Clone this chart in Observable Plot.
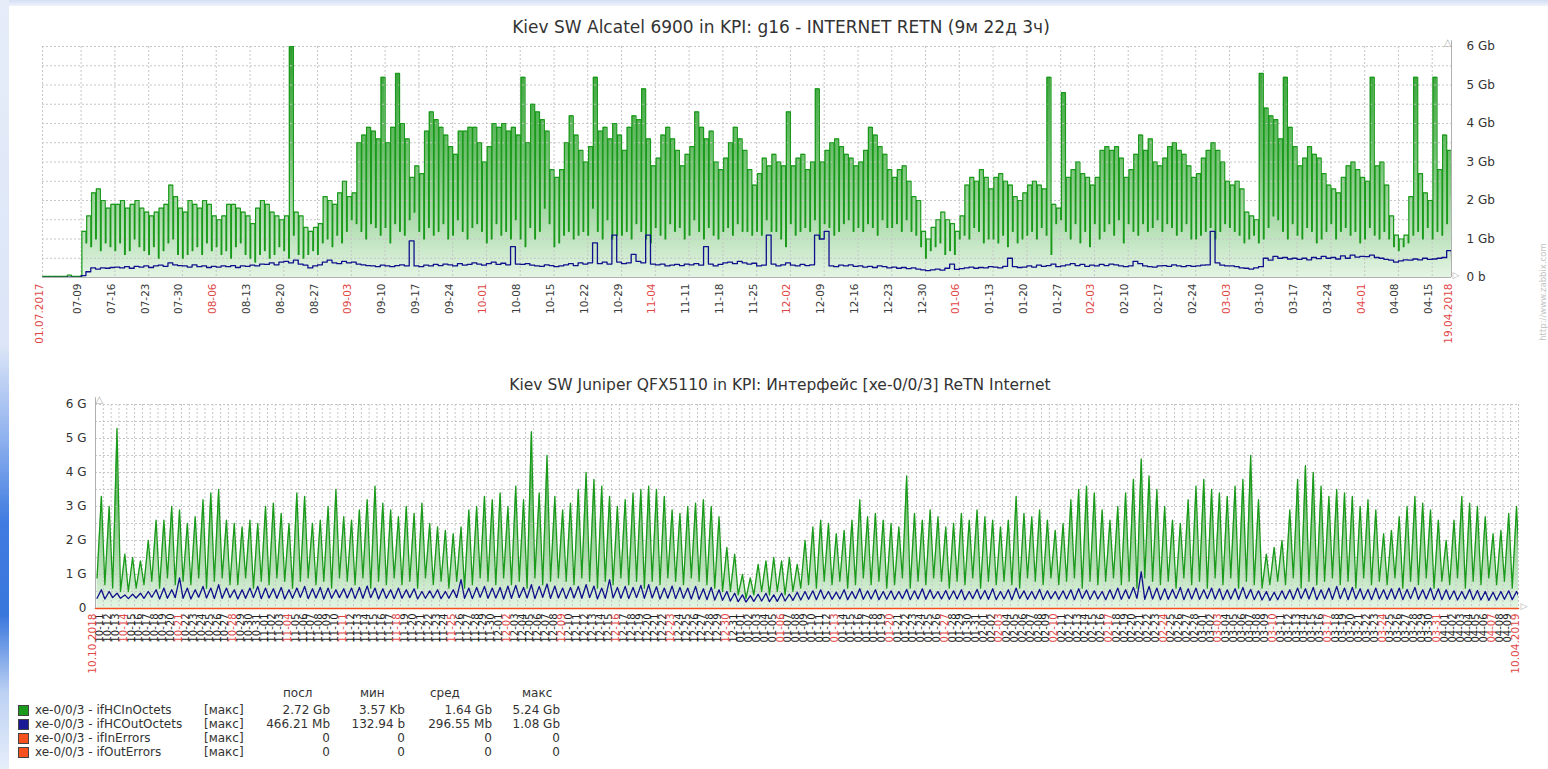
<!DOCTYPE html>
<html><head><meta charset="utf-8">
<script src="https://cdn.jsdelivr.net/npm/d3@7"></script>
<script src="https://cdn.jsdelivr.net/npm/@observablehq/plot@0.6"></script>
<style>
html,body{margin:0;padding:0;background:#fff;}
body{width:1548px;height:769px;position:relative;overflow:hidden;font-family:"DejaVu Sans",sans-serif;color:#333;}
.abs{position:absolute;white-space:nowrap;}
.title{color:#333;transform:translateX(-50%);}
#legend div{position:absolute;font-size:12px;line-height:14px;color:#333;white-space:nowrap;}
</style></head><body>
<div class="abs" style="left:0;top:0;width:1548px;height:6px;background:linear-gradient(#d3dff4,#eef3fb)"></div>
<div class="abs" style="left:0;top:0;width:9px;height:769px;background:linear-gradient(to bottom,#e6edf9 0%,#dbe5f7 45%,#8fb1ee 57%,#3f7be0 68%,#3a77dd 80%,#bcd1f3 90%,#e6eefa 100%)"></div>
<div class="abs title" style="left:781px;top:17px;font-size:17px;">Kiev SW Alcatel 6900 in KPI: g16 - INTERNET RETN (9м 22д 3ч)</div>
<div class="abs title" style="left:780px;top:376px;font-size:15.5px;">Kiev SW Juniper QFX5110 in KPI: Интерфейс [xe-0/0/3] ReTN Internet</div>
<div class="abs" style="left:1543px;top:292px;font-size:8.5px;color:#c4c4c4;transform:translate(-50%,-50%) rotate(-90deg);">http://www.zabbix.com</div>
<div id="top" class="abs" style="left:0;top:0;"></div>
<div id="bottom" class="abs" style="left:0;top:360px;"></div>
<div id="legend" class="abs" style="left:0;top:0;width:1548px;height:769px;"></div>
<script>
// ================= DATA =================
// Top chart: Alcatel 6900, daily values (Gb), 2017-07-01 .. 2018-04-19
const topStartDate = "2017-07-01";
const topEndDate = "2018-04-19";
const topInPeak = [
  0.03,0.03,0.03,0.03,0.03,0.06,0.03,0.03,
  1.2,1.6,2.2,2.3,2.0,1.8,1.9,
  1.9,2.0,1.8,1.9,2.0,1.8,1.7,
  1.6,1.7,1.8,1.9,2.4,2.1,1.8,
  1.7,2.0,1.9,1.8,2.0,1.9,1.6,
  1.5,1.6,1.9,1.9,1.8,1.7,1.6,
  1.4,1.8,2.0,1.9,1.7,1.6,1.5,
  1.6,6.0,1.7,1.6,1.3,1.2,1.3,
  1.4,2.1,2.0,1.9,2.2,2.5,2.1,
  2.2,3.5,3.7,3.9,3.8,3.6,5.2,
  3.5,3.9,5.3,4.0,3.6,2.6,2.9,
  2.7,3.8,4.3,4.1,3.9,3.7,3.4,
  3.2,3.8,3.8,3.9,3.9,3.5,3.0,
  3.4,4.0,3.9,4.0,3.8,3.9,3.7,
  5.2,3.5,4.5,4.3,4.1,3.8,2.8,
  2.6,2.8,3.5,4.2,3.7,3.3,3.0,
  3.4,5.2,3.8,3.9,3.6,4.0,3.7,
  3.3,3.9,4.2,4.1,4.9,3.6,2.9,
  3.1,3.7,3.9,3.6,3.3,2.9,3.2,
  3.4,4.3,3.9,3.6,3.8,3.0,2.8,
  3.1,3.5,3.9,3.6,3.3,2.8,2.4,
  2.7,3.1,2.9,3.2,3.0,2.9,4.3,
  2.9,3.1,3.2,2.8,3.0,4.9,3.0,
  3.3,3.5,3.6,3.4,3.2,3.1,2.9,
  3.0,3.3,3.9,3.7,3.4,3.2,2.8,
  2.6,2.8,2.9,2.5,2.1,2.0,1.2,
  1.0,1.3,1.5,1.7,1.5,1.4,1.2,
  1.6,2.4,2.6,2.5,2.8,2.6,2.3,
  2.6,2.7,2.5,2.4,2.1,2.0,2.2,
  2.4,2.5,2.4,2.3,5.2,1.9,1.8,
  4.8,2.6,2.8,3.0,2.7,2.6,2.4,
  2.6,3.3,3.4,3.3,3.4,3.1,2.6,
  2.8,3.2,3.7,3.3,3.6,3.0,2.9,
  3.1,3.4,3.5,3.3,3.2,2.9,2.6,
  2.7,3.1,3.3,3.5,3.3,3.0,2.5,
  2.4,2.5,2.3,1.7,1.6,1.5,5.3,
  4.4,4.2,4.1,3.6,5.2,3.9,3.4,
  2.9,3.1,3.4,3.2,3.1,2.7,2.4,
  2.3,2.2,2.6,2.9,3.0,2.8,2.6,
  2.5,5.2,2.9,3.0,2.4,1.6,1.1,
  1.0,1.1,2.1,5.2,2.7,2.2,2.0,
  5.2,2.8,3.7,3.3,2.5
];
const topInLow = [
  0.02,0.02,0.02,0.02,0.02,0.02,0.02,0.02,
  0.02,0.9,0.8,1.0,0.7,0.9,0.8,
  0.7,0.9,0.6,0.7,1.0,0.8,0.7,
  0.6,0.8,0.5,0.7,0.9,1.0,0.6,
  0.5,0.6,0.7,0.8,0.6,0.9,0.7,
  0.8,0.6,0.7,0.5,0.8,0.9,0.6,
  0.5,0.4,0.6,0.7,0.5,0.6,0.8,
  0.7,0.5,1.1,0.6,0.5,0.6,0.7,
  0.6,0.9,1.0,0.8,1.1,0.9,1.2,
  1.5,1.4,1.2,1.0,1.4,1.3,1.1,
  1.3,0.9,1.4,1.2,1.1,1.5,1.7,
  1.2,1.0,1.3,1.1,1.2,1.4,1.0,
  1.1,1.5,1.2,1.0,1.3,1.4,1.2,
  0.9,1.0,1.4,1.1,1.2,1.0,1.5,
  1.0,0.8,1.3,1.0,1.2,1.8,1.4,
  0.8,0.9,1.1,1.2,1.0,1.1,1.2,
  1.1,1.8,1.2,1.0,1.5,1.0,1.1,
  1.1,1.2,1.0,1.4,1.2,1.0,0.9,
  1.3,1.1,1.0,1.4,1.2,1.3,1.0,
  1.1,1.5,1.2,1.0,1.3,1.1,1.0,
  1.2,1.3,1.1,1.4,1.2,1.2,1.1,
  1.2,1.1,1.5,1.2,1.2,1.0,0.8,
  1.4,1.1,1.2,1.3,1.2,1.5,1.0,
  1.4,1.3,1.1,1.2,1.4,1.5,1.2,
  1.3,1.2,1.4,1.3,1.1,1.5,1.3,
  1.3,1.4,1.2,1.5,1.2,1.1,0.8,
  0.5,0.7,0.8,0.9,0.6,0.7,0.6,
  1.0,1.1,1.0,1.3,1.2,0.9,1.0,
  1.0,0.9,1.1,0.8,1.2,0.9,1.0,
  1.1,1.2,1.0,1.3,1.1,0.6,1.4,
  1.5,1.2,1.0,1.4,0.9,1.2,0.8,
  1.4,1.0,1.2,1.4,1.1,1.5,0.9,
  1.4,1.2,1.1,1.4,1.2,1.3,1.5,
  1.2,1.4,1.3,1.1,1.2,1.4,1.0,
  1.0,1.1,1.2,1.3,1.0,1.2,1.4,
  1.3,1.2,1.1,0.9,1.0,1.1,0.9,
  1.0,1.3,1.6,1.5,1.2,1.0,1.4,
  1.1,1.0,1.3,1.2,0.9,1.0,1.2,
  1.4,1.0,1.2,1.3,1.1,1.2,0.9,
  1.0,1.3,1.1,1.0,1.2,1.0,0.8,
  0.7,0.8,0.9,1.1,1.2,1.0,1.3,
  1.0,1.2,1.1,1.4,2.1
];
const topOut = [
  0,0,0,0,0,0.01,0,0,
  0.05,0.15,0.25,0.22,0.25,0.24,0.26,
  0.27,0.25,0.28,0.24,0.29,0.27,0.30,
  0.26,0.30,0.32,0.29,0.38,0.33,0.31,
  0.30,0.27,0.33,0.28,0.30,0.26,0.29,
  0.27,0.30,0.28,0.31,0.26,0.30,0.29,
  0.32,0.30,0.35,0.34,0.38,0.33,0.40,
  0.42,0.38,0.45,0.35,0.32,0.25,0.30,
  0.33,0.40,0.45,0.38,0.36,0.42,0.38,
  0.40,0.35,0.33,0.31,0.30,0.28,0.32,
  0.30,0.28,0.31,0.33,0.30,0.95,0.30,
  0.28,0.32,0.30,0.34,0.31,0.35,0.33,
  0.30,0.36,0.32,0.34,0.38,0.35,0.32,
  0.36,0.40,0.34,0.37,0.33,0.80,0.35,
  0.34,0.36,0.32,0.30,0.29,0.33,0.31,
  0.28,0.30,0.33,0.36,0.31,0.38,0.35,
  0.38,0.90,0.36,0.40,0.35,1.10,0.40,
  0.36,0.38,0.60,0.42,0.38,1.10,0.35,
  0.33,0.35,0.30,0.32,0.34,0.31,0.35,
  0.33,0.36,0.32,0.80,0.35,0.30,0.34,
  0.38,0.40,0.36,0.42,0.38,0.35,0.37,
  0.30,0.32,1.10,0.35,0.30,0.33,0.38,
  0.32,0.30,0.34,0.31,0.33,1.10,1.00,
  1.20,0.30,0.28,0.32,0.30,0.33,0.29,
  0.30,0.27,0.29,0.26,0.30,0.28,0.25,
  0.27,0.24,0.26,0.23,0.25,0.22,0.20,
  0.18,0.20,0.22,0.19,0.24,0.35,0.21,
  0.23,0.25,0.27,0.24,0.26,0.25,0.28,
  0.27,0.25,0.29,0.50,0.28,0.26,0.27,
  0.30,0.27,0.32,0.29,0.31,0.35,0.28,
  0.30,0.33,0.36,0.31,0.34,0.29,0.32,
  0.30,0.34,0.31,0.35,0.33,0.30,0.28,
  0.30,0.42,0.36,0.30,0.28,0.27,0.30,
  0.31,0.29,0.33,0.30,0.28,0.31,0.29,
  0.30,0.32,0.33,1.20,0.38,0.32,0.30,
  0.30,0.28,0.25,0.24,0.22,0.25,0.28,
  0.50,0.45,0.55,0.50,0.52,0.48,0.50,
  0.47,0.50,0.46,0.52,0.49,0.55,0.50,
  0.52,0.48,0.56,0.50,0.58,0.53,0.55,
  0.54,0.58,0.52,0.50,0.47,0.45,0.40,
  0.43,0.46,0.45,0.48,0.46,0.50,0.47,
  0.48,0.50,0.52,0.70,0.55
];
const topTickDates = ["2017-07-09","2017-07-16","2017-07-23","2017-07-30","2017-08-06","2017-08-13","2017-08-20","2017-08-27","2017-09-03","2017-09-10","2017-09-17","2017-09-24","2017-10-01","2017-10-08","2017-10-15","2017-10-22","2017-10-29","2017-11-05","2017-11-12","2017-11-19","2017-11-26","2017-12-03","2017-12-10","2017-12-17","2017-12-24","2017-12-31","2018-01-07","2018-01-14","2018-01-21","2018-01-28","2018-02-04","2018-02-11","2018-02-18","2018-02-25","2018-03-04","2018-03-11","2018-03-18","2018-03-25","2018-04-01","2018-04-08","2018-04-15"];
const topTickLabels = ["07-09","07-16","07-23","07-30","08-06","08-13","08-20","08-27","09-03","09-10","09-17","09-24","10-01","10-08","10-15","10-22","10-29","11-04","11-11","11-18","11-25","12-02","12-09","12-16","12-23","12-30","01-06","01-13","01-20","01-27","02-03","02-10","02-17","02-24","03-03","03-10","03-17","03-24","04-01","04-08","04-15"];
const topRedLabels = ["08-06","09-03","10-01","11-04","12-02","01-06","02-03","03-03","04-01"];
const topEdgeLabels = ["01.07.2017","19.04.2018"];
const topYTicks = [0,1,2,3,4,5,6];
const topYLabels = ["0 b","1 Gb","2 Gb","3 Gb","4 Gb","5 Gb","6 Gb"];
const yGrid = [0.5,1,1.5,2,2.5,3,3.5,4,4.5,5,5.5,6];

// Bottom chart: Juniper QFX5110, daily values (G), 2018-10-10 .. 2019-04-10
const botStartDate = "2018-10-10";
const botEndDate = "2019-04-10";
const botInPeak = [
  3.3,3.0,5.3,1.6,
  1.5,1.4,2.0,2.6,2.6,3.0,2.9,
  2.5,2.7,3.2,3.4,3.5,2.6,2.5,
  2.4,2.6,2.5,3.0,3.1,2.8,2.5,
  3.4,3.3,2.5,2.6,3.0,3.5,2.7,
  2.6,2.9,3.2,3.6,3.1,2.9,2.7,
  3.0,2.8,3.1,2.5,2.4,2.3,2.2,
  2.4,2.9,3.0,3.3,3.2,3.4,3.0,
  3.6,3.2,5.2,3.4,4.5,3.3,2.9,
  3.1,3.5,4.0,3.8,3.6,3.3,3.0,
  3.2,3.4,3.5,3.6,3.5,3.3,2.9,
  2.8,3.0,3.1,3.2,3.0,2.7,1.8,
  1.6,1.0,0.9,1.3,1.4,1.5,1.4,
  1.5,1.3,2.0,2.4,2.6,2.5,2.2,
  2.3,2.6,3.2,2.7,2.8,2.6,2.5,
  2.4,3.9,2.8,2.6,2.9,2.7,2.4,
  2.5,2.8,2.6,2.9,2.7,2.6,2.4,
  2.6,3.3,2.8,2.7,2.9,2.6,2.3,
  2.5,3.2,3.5,3.6,3.4,2.9,2.6,
  3.0,3.4,3.8,4.4,3.9,3.5,3.0,
  2.6,2.5,3.2,3.6,3.8,3.5,3.4,
  3.3,3.6,3.8,4.5,3.2,1.6,1.8,
  2.0,2.9,3.8,4.2,4.0,3.6,3.3,
  3.5,3.4,3.3,3.0,3.2,2.9,2.2,
  2.3,2.7,3.0,3.3,3.1,2.9,2.6,
  2.0,2.6,3.3,3.1,3.0,2.7,2.2,
  2.3,2.8,3.0,3.1
];
const botInLow = [
  0.9,0.7,0.6,0.5,
  0.5,0.6,0.7,0.8,0.6,0.9,0.7,
  0.8,0.7,0.9,0.6,0.8,0.9,0.7,
  0.7,0.9,0.6,0.8,0.7,0.9,0.8,
  0.6,0.8,0.9,0.7,0.8,0.6,0.9,
  0.8,0.7,0.9,0.6,0.8,0.7,0.9,
  0.7,0.8,0.6,0.9,0.7,0.8,0.6,
  0.8,0.6,0.7,0.9,0.8,0.7,0.9,
  0.7,0.8,0.6,0.9,0.7,0.8,0.9,
  0.8,0.7,0.9,0.8,0.6,0.8,0.7,
  0.9,0.7,0.8,0.6,0.8,0.7,0.9,
  0.8,0.7,0.9,0.8,0.7,0.6,0.5,
  0.5,0.4,0.3,0.4,0.5,0.4,0.5,
  0.4,0.5,0.6,0.7,0.6,0.8,0.7,
  0.8,0.6,0.7,0.9,0.7,0.8,0.6,
  0.7,0.9,0.6,0.8,0.7,0.9,0.8,
  0.6,0.8,0.7,0.9,0.6,0.8,0.7,
  0.8,0.7,0.6,0.9,0.8,0.7,0.9,
  0.7,0.8,0.9,0.6,0.8,0.7,0.8,
  0.9,0.7,0.8,0.6,0.9,0.8,0.7,
  0.8,0.6,0.9,0.7,0.8,0.6,0.9,
  0.7,0.9,0.6,0.8,0.7,0.6,0.7,
  0.8,0.7,0.9,0.6,0.8,0.7,0.8,
  0.9,0.7,0.8,0.6,0.9,0.7,0.8,
  0.7,0.9,0.6,0.8,0.7,0.9,0.6,
  0.8,0.7,0.9,0.6,0.8,0.7,0.9,
  0.7,0.8,0.6,0.8
];
const botOutHigh = [
  0.55,0.50,0.45,0.40,
  0.42,0.45,0.50,0.55,0.60,0.55,0.90,
  0.60,0.55,0.65,0.60,0.70,0.60,0.55,
  0.55,0.60,0.65,0.60,0.58,0.62,0.55,
  0.60,0.65,0.58,0.62,0.60,0.55,0.58,
  0.60,0.62,0.66,0.60,0.58,0.55,0.60,
  0.55,0.58,0.50,0.52,0.55,0.50,0.55,
  0.85,0.60,0.62,0.65,0.60,0.62,0.66,
  0.68,0.62,0.70,0.65,0.72,0.66,0.60,
  0.62,0.65,0.70,0.66,0.60,0.85,0.62,
  0.65,0.62,0.68,0.70,0.64,0.60,0.66,
  0.62,0.60,0.65,0.58,0.62,0.55,0.50,
  0.45,0.40,0.38,0.42,0.45,0.40,0.45,
  0.42,0.48,0.50,0.52,0.55,0.50,0.48,
  0.55,0.50,0.58,0.52,0.55,0.50,0.52,
  0.50,0.56,0.52,0.58,0.55,0.50,0.53,
  0.52,0.55,0.50,0.56,0.53,0.58,0.50,
  0.55,0.60,0.52,0.50,0.56,0.52,0.50,
  0.52,0.55,0.58,0.54,0.52,0.50,0.55,
  0.60,0.55,0.62,1.08,0.65,0.60,0.58,
  0.56,0.62,0.58,0.60,0.55,0.60,0.58,
  0.55,0.58,0.62,0.56,0.52,0.50,0.48,
  0.52,0.55,0.60,0.58,0.62,0.55,0.60,
  0.65,0.60,0.62,0.58,0.56,0.60,0.55,
  0.58,0.60,0.56,0.62,0.55,0.60,0.58,
  0.55,0.52,0.50,0.56,0.53,0.50,0.48,
  0.50,0.52,0.50,0.50
];
const botOutLow = [
  0.30,0.28,0.32,0.30,
  0.29,0.31,0.30,0.33,0.28,0.30,0.32,
  0.30,0.28,0.33,0.31,0.29,0.30,0.32,
  0.28,0.30,0.32,0.29,0.31,0.30,0.28,
  0.30,0.33,0.29,0.31,0.28,0.30,0.32,
  0.31,0.29,0.30,0.32,0.28,0.30,0.29,
  0.30,0.32,0.28,0.30,0.31,0.29,0.30,
  0.32,0.30,0.29,0.33,0.30,0.31,0.28,
  0.30,0.32,0.31,0.29,0.33,0.30,0.31,
  0.29,0.31,0.30,0.32,0.28,0.30,0.31,
  0.30,0.29,0.32,0.30,0.31,0.28,0.30,
  0.29,0.30,0.28,0.27,0.26,0.25,0.24,
  0.22,0.20,0.19,0.21,0.22,0.20,0.21,
  0.22,0.24,0.25,0.27,0.26,0.28,0.27,
  0.28,0.26,0.29,0.27,0.28,0.26,0.27,
  0.27,0.29,0.26,0.28,0.27,0.29,0.28,
  0.27,0.28,0.26,0.29,0.28,0.27,0.26,
  0.28,0.26,0.29,0.27,0.28,0.26,0.29,
  0.27,0.28,0.26,0.29,0.27,0.28,0.26,
  0.28,0.27,0.29,0.30,0.27,0.28,0.26,
  0.27,0.29,0.26,0.28,0.27,0.29,0.28,
  0.26,0.28,0.27,0.29,0.26,0.25,0.24,
  0.26,0.28,0.27,0.29,0.28,0.26,0.28,
  0.27,0.29,0.26,0.28,0.27,0.26,0.28,
  0.27,0.28,0.26,0.29,0.27,0.28,0.26,
  0.26,0.27,0.25,0.28,0.26,0.25,0.24,
  0.25,0.27,0.26,0.28
];
const botErrors = [0, 0];   // ifInErrors / ifOutErrors stay at 0 over the whole period
const botEdgeLabels = ["10.10.2018","10.04.2019"];
const botYTicks = [0,1,2,3,4,5,6];
const botYLabels = ["0","1 G","2 G","3 G","4 G","5 G","6 G"];

// Legend
const legendNames = ["xe-0/0/3 - ifHCInOctets","xe-0/0/3 - ifHCOutOctets","xe-0/0/3 - ifInErrors","xe-0/0/3 - ifOutErrors"];
const legendColors = ["#1a9a1a","#1a1a96","#f4511e","#f4511e"];
const legendFunc = ["[макс]","[макс]","[макс]","[макс]"];
const legendHeaders = ["посл","мин","сред","макс"];
const legendLast = ["2.72 Gb","466.21 Mb","0","0"];
const legendMin = ["3.57 Kb","132.94 b","0","0"];
const legendAvg = ["1.64 Gb","296.55 Mb","0","0"];
const legendMax = ["5.24 Gb","1.08 Gb","0","0"];

// ================= BUILD =================
const DAY = 864e5;
const parse = s => new Date(s + "T00:00:00Z");
const topStart = parse(topStartDate), topEnd = parse(topEndDate);
const botStart = parse(botStartDate), botEnd = parse(botEndDate);
const at = (start, d) => new Date(+start + d * DAY);

const topInSeries = topInPeak.flatMap((p, i) => [
  {t: at(topStart, i), v: topInLow[i]},
  {t: at(topStart, i + 0.16), v: p}
]);
const topOutSeries = topOut.map((v, i) => ({t: at(topStart, i), v}));
const topTicks = topTickDates.map((d, i) => ({t: parse(d), label: topTickLabels[i], red: topRedLabels.includes(topTickLabels[i])}));
const topEdges = [{t: topStart, label: topEdgeLabels[0]}, {t: topEnd, label: topEdgeLabels[1]}];

const botInSeries = botInPeak.flatMap((p, i) => [
  {t: at(botStart, i + 0.2), v: botInLow[i]},
  {t: at(botStart, i + 0.75), v: p}
]);
const botOutSeries = botOutHigh.flatMap((h, i) => [
  {t: at(botStart, i + 0.2), v: botOutLow[i]},
  {t: at(botStart, i + 0.75), v: h}
]);
const botErrSeries = [{t: botStart, v: botErrors[0]}, {t: botEnd, v: botErrors[1]}];
const botDays = d3.utcDay.range(botStart, at(botEnd, 0.5));
const fmtMD = d3.utcFormat("%m-%d");
const botTicks = d3.utcDay.range(at(botStart, 1), botEnd).map(t => ({t, label: fmtMD(t), red: t.getUTCDay() === 0}));
const botEdges = [{t: botStart, label: botEdgeLabels[0]}, {t: botEnd, label: botEdgeLabels[1]}];

const GREEN = "#1a9a1a", BLUE = "#10108c", ERR = "#f4511e", GRID = "#c6c6c6", AXIS = "#b0b0b0";
const RED = "#e04848", TICK = "#3a3a3a";
const font = {fontFamily: "DejaVu Sans", fontSize: "11px", background: "transparent", color: "#333", overflow: "visible"};

function addGradient(svg, id, y1, y2) {
  const ns = "http://www.w3.org/2000/svg";
  const defs = document.createElementNS(ns, "defs");
  const g = document.createElementNS(ns, "linearGradient");
  g.setAttribute("id", id); g.setAttribute("gradientUnits", "userSpaceOnUse");
  g.setAttribute("x1", 0); g.setAttribute("x2", 0); g.setAttribute("y1", y1); g.setAttribute("y2", y2);
  [[0, "#2f9d2f"], [0.45, "#6cbf6c"], [1, "#e4f4e4"]].forEach(([o, c]) => {
    const s = document.createElementNS(ns, "stop");
    s.setAttribute("offset", o); s.setAttribute("stop-color", c); g.appendChild(s);
  });
  defs.appendChild(g); svg.insertBefore(defs, svg.firstChild);
}

// ---------- top ----------
const T = {w: 1548, h: 360, ml: 42, mr: 97, mt: 46, mb: 83};
const topPlot = Plot.plot({
  width: T.w, height: T.h, marginLeft: T.ml, marginRight: T.mr, marginTop: T.mt, marginBottom: T.mb,
  x: {type: "utc", domain: [topStart, topEnd], axis: null},
  y: {domain: [0, 6], axis: null},
  style: font,
  marks: [
    Plot.areaY(topInSeries, {x: "t", y: "v", curve: "step-after", fill: "url(#gTop)", clip: true}),
    Plot.ruleY(yGrid, {stroke: GRID, strokeDasharray: "2,2"}),
    Plot.ruleX([topStart, ...topTicks.map(d => d.t)], {stroke: GRID, strokeDasharray: "2,2"}),
    Plot.line(topInSeries, {x: "t", y: "v", curve: "step-after", stroke: GREEN, strokeWidth: 1.2, clip: true}),
    Plot.line(topOutSeries, {x: "t", y: "v", curve: "step-after", stroke: BLUE, strokeWidth: 1.3, clip: true}),
    Plot.ruleY([0], {stroke: AXIS}),
    Plot.ruleX([topEnd], {stroke: AXIS, y1: 0, y2: 6.15}),
    Plot.text(["△"], {frameAnchor: "top-right", dy: -8, fill: AXIS, fontSize: 10}),
    Plot.text(["▷"], {frameAnchor: "bottom-right", dx: 8, fill: AXIS, fontSize: 9}),
    Plot.text(topYTicks, {y: d => d, text: (d, i) => topYLabels[i], frameAnchor: "right", textAnchor: "start", dx: 15, fontSize: 12, fill: "#333"}),
    Plot.text(topTicks.filter(d => !d.red), {x: "t", text: "label", frameAnchor: "bottom", rotate: -90, textAnchor: "end", dy: 6, fontSize: 10.5, fill: TICK}),
    Plot.text(topTicks.filter(d => d.red), {x: "t", text: "label", frameAnchor: "bottom", rotate: -90, textAnchor: "end", dy: 6, fontSize: 10.5, fill: RED}),
    Plot.text(topEdges, {x: "t", text: "label", frameAnchor: "bottom", rotate: -90, textAnchor: "end", dy: 6, fontSize: 10.5, fill: RED})
  ]
});
addGradient(topPlot, "gTop", T.mt, T.h - T.mb);
document.getElementById("top").appendChild(topPlot);

// ---------- bottom ----------
const B = {w: 1548, h: 330, ml: 95, mr: 30, mt: 44, mb: 82};
const botPlot = Plot.plot({
  width: B.w, height: B.h, marginLeft: B.ml, marginRight: B.mr, marginTop: B.mt, marginBottom: B.mb,
  x: {type: "utc", domain: [botStart, botEnd], axis: null},
  y: {domain: [0, 6], axis: null},
  style: font,
  marks: [
    Plot.areaY(botInSeries, {x: "t", y: "v", fill: "url(#gBot)", clip: true}),
    Plot.ruleY(yGrid, {stroke: GRID, strokeDasharray: "2,2"}),
    Plot.ruleX(botDays, {stroke: GRID, strokeDasharray: "2,2"}),
    Plot.line(botInSeries, {x: "t", y: "v", stroke: GREEN, strokeWidth: 1.3, clip: true}),
    Plot.line(botOutSeries, {x: "t", y: "v", stroke: BLUE, strokeWidth: 1.3, clip: true}),
    Plot.ruleX([botStart], {stroke: AXIS, y1: 0, y2: 6.2}),
    Plot.line(botErrSeries, {x: "t", y: "v", stroke: ERR, strokeWidth: 1.6}),
    Plot.text(["△"], {frameAnchor: "top-left", dy: -9, fill: AXIS, fontSize: 10}),
    Plot.text(["▷"], {frameAnchor: "bottom-right", dx: 9, fill: AXIS, fontSize: 9}),
    Plot.text(botYTicks, {y: d => d, text: (d, i) => botYLabels[i], frameAnchor: "left", textAnchor: "end", dx: -9, fontSize: 12, fill: "#333"}),
    Plot.text(botTicks.filter(d => !d.red), {x: "t", text: "label", frameAnchor: "bottom", rotate: -90, textAnchor: "end", dy: 5, fontSize: 10, fill: "#222"}),
    Plot.text(botTicks.filter(d => d.red), {x: "t", text: "label", frameAnchor: "bottom", rotate: -90, textAnchor: "end", dy: 5, fontSize: 10, fill: RED}),
    Plot.text(botEdges, {x: "t", text: "label", frameAnchor: "bottom", rotate: -90, textAnchor: "end", dy: 5, fontSize: 10.5, fill: RED})
  ]
});
addGradient(botPlot, "gBot", B.mt, B.h - B.mb);
document.getElementById("bottom").appendChild(botPlot);

// ---------- legend ----------
const leg = document.getElementById("legend");
function put(text, left, top, opts = {}) {
  const d = document.createElement("div");
  d.textContent = text;
  d.style.top = (top - 7) + "px";
  if (opts.right !== undefined) { d.style.left = (opts.right - 200) + "px"; d.style.width = "200px"; d.style.textAlign = "right"; }
  else d.style.left = left + "px";
  leg.appendChild(d);
  return d;
}
const headerY = 693, rowY = [710, 724, 738, 752];
const colRight = [330, 405, 492, 560];
const headerLeft = [283, 360, 430, 522];
legendHeaders.forEach((h, i) => put(h, headerLeft[i], headerY));
legendNames.forEach((n, r) => {
  const sq = document.createElement("div");
  sq.style.left = "18px"; sq.style.top = (rowY[r] - 5) + "px";
  sq.style.width = "9px"; sq.style.height = "9px";
  sq.style.background = legendColors[r]; sq.style.border = "1px solid #444";
  leg.appendChild(sq);
  put(n, 35, rowY[r]);
  put(legendFunc[r], 204, rowY[r]);
  [legendLast, legendMin, legendAvg, legendMax].forEach((col, c) => put(col[r], 0, rowY[r], {right: colRight[c]}));
});
</script>
</body></html>
